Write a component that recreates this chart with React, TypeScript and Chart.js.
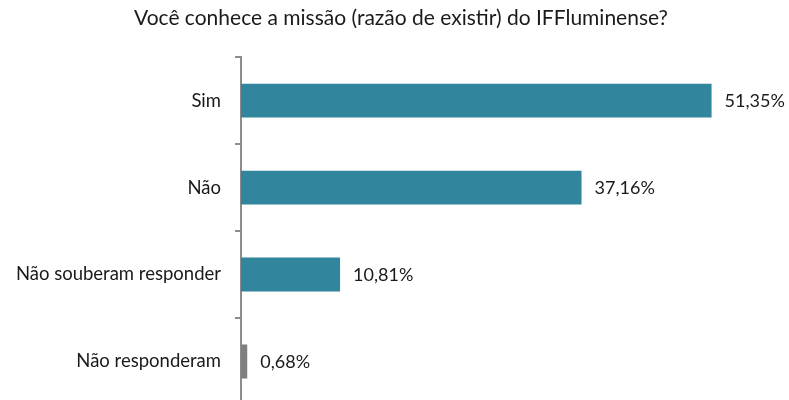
import React, { useEffect, useRef } from "react";
import { Chart, registerables } from "chart.js";

Chart.register(...registerables);

const categories = ["Sim", "Não", "Não souberam responder", "Não responderam"];
const values = [51.35, 37.16, 10.81, 0.68];
const barColors = ["#31859C", "#31859C", "#31859C", "#7F7F7F"];
const titleText = "Você conhece a missão (razão de existir) do IFFluminense?";

const FONT = "Lato, sans-serif";
const PAD_LEFT = 13;

const valueLabels = {
  id: "valueLabels",
  afterDatasetsDraw(chart: any) {
    const ctx = chart.ctx;
    const meta = chart.getDatasetMeta(0);
    ctx.save();
    ctx.font = `18px ${FONT}`;
    ctx.fillStyle = "#1a1a1a";
    ctx.textAlign = "left";
    ctx.textBaseline = "middle";
    meta.data.forEach((bar: any, i: number) => {
      const v = values[i];
      const txt = v.toFixed(2).replace(".", ",") + "%";
      ctx.fillText(txt, bar.x + 13, bar.y + 1);
    });
    ctx.restore();
  },
};

export default function App() {
  const ref = useRef<HTMLCanvasElement | null>(null);
  useEffect(() => {
    document.body.style.margin = "0";
    const chart = new Chart(ref.current!, {
      type: "bar",
      data: {
        labels: categories,
        datasets: [
          {
            data: values,
            backgroundColor: barColors,
            borderWidth: 0,
            barPercentage: 0.78,
            categoryPercentage: 0.5,
          },
        ],
      },
      options: {
        indexAxis: "y",
        animation: false,
        responsive: true,
        maintainAspectRatio: false,
        layout: { padding: { left: PAD_LEFT, right: 0, top: 0, bottom: 15 } },
        plugins: {
          legend: { display: false },
          tooltip: { enabled: false },
          title: {
            display: true,
            text: titleText,
            color: "#1a1a1a",
            font: { family: FONT, size: 21, weight: "normal", lineHeight: 1.2 },
            padding: { top: 6, bottom: 26 },
          },
        },
        scales: {
          x: {
            display: false,
            min: 0,
            max: 59.8,
          },
          y: {
            afterFit(scale: any) {
              scale.width = 241 - PAD_LEFT;
            },
            grid: {
              offset: true,
              drawOnChartArea: false,
              drawTicks: true,
              tickLength: 6,
              color: "#8C8C8C",
              lineWidth: 2,
            },
            border: { display: true, color: "#8C8C8C", width: 2 },
            ticks: {
              color: "#1a1a1a",
              font: { family: FONT, size: 18.5 },
              padding: 14,
            },
          },
        },
      },
      plugins: [valueLabels],
    });
    return () => chart.destroy();
  }, []);
  return (
    <div style={{ position: "fixed", left: 0, top: 0, width: 789, height: 430 }}>
      <canvas ref={ref} />
    </div>
  );
}
